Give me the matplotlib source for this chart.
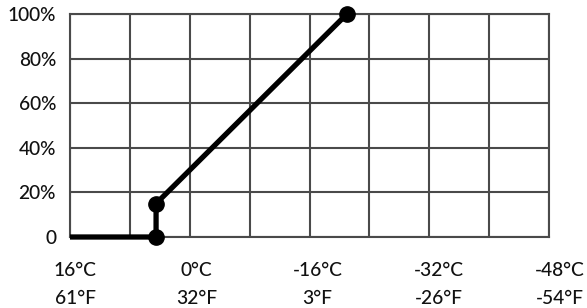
import matplotlib
matplotlib.use("Agg")
import matplotlib.pyplot as plt
import matplotlib.transforms as mtransforms

# Data
temp_c = [16, 4.5, 4.5, -21]
percent = [0, 0, 15, 100]
marker_idx = [1, 2, 3]
c_ticks = [16, 0, -16, -32, -48]
c_labels = ["16°C", "0°C", "-16°C", "-32°C", "-48°C"]
f_labels = ["61°F", "32°F", "3°F", "-26°F", "-54°F"]
y_ticks = [0, 20, 40, 60, 80, 100]
y_labels = ["0", "20%", "40%", "60%", "80%", "100%"]
grid_x = [16, 8, 0, -8, -16, -24, -32, -40, -48]

plt.rcParams['font.family'] = ['Lato', 'DejaVu Sans']

W, H = 587, 308
fig = plt.figure(figsize=(W / 100, H / 100), dpi=100)
ax = fig.add_axes([70 / W, 1 - 237 / H, (549 - 70) / W, (237 - 14) / H])
ax.set_xlim(16, -48)
ax.set_ylim(0, 100)

grid_color = "#4a4a4a"
for gx in grid_x:
    ax.axvline(gx, color=grid_color, lw=1.5, zorder=1)
for gy in y_ticks:
    ax.axhline(gy, color=grid_color, lw=1.5, zorder=1)
for s in ax.spines.values():
    s.set_color(grid_color)
    s.set_linewidth(1.5)

ax.plot(temp_c, percent, color="black", lw=3.8, solid_capstyle="butt",
        solid_joinstyle="round", zorder=3, clip_on=False)
ax.plot([temp_c[i] for i in marker_idx], [percent[i] for i in marker_idx],
        "o", color="black", ms=11, zorder=4, clip_on=False)

FS = 13.8
ax.set_xticks([])
ax.set_yticks(y_ticks)
ax.set_yticklabels(y_labels, fontsize=FS, color="#111111", fontweight="medium")
ax.tick_params(axis="y", length=0, pad=10)

for i, (c, cl, fl) in enumerate(zip(c_ticks, c_labels, f_labels)):
    off = mtransforms.ScaledTranslation((5 + 1.5 * i) / 100, 0, fig.dpi_scale_trans)
    tr = mtransforms.blended_transform_factory(ax.transData, fig.transFigure) + off
    ax.text(c, 1 - 270 / H, cl, transform=tr, ha="center", va="center",
            fontsize=FS, color="#111111", fontweight="medium")
    ax.text(c, 1 - 298 / H, fl, transform=tr, ha="center", va="center",
            fontsize=FS, color="#111111", fontweight="medium")

fig.savefig("out.png", dpi=100)
